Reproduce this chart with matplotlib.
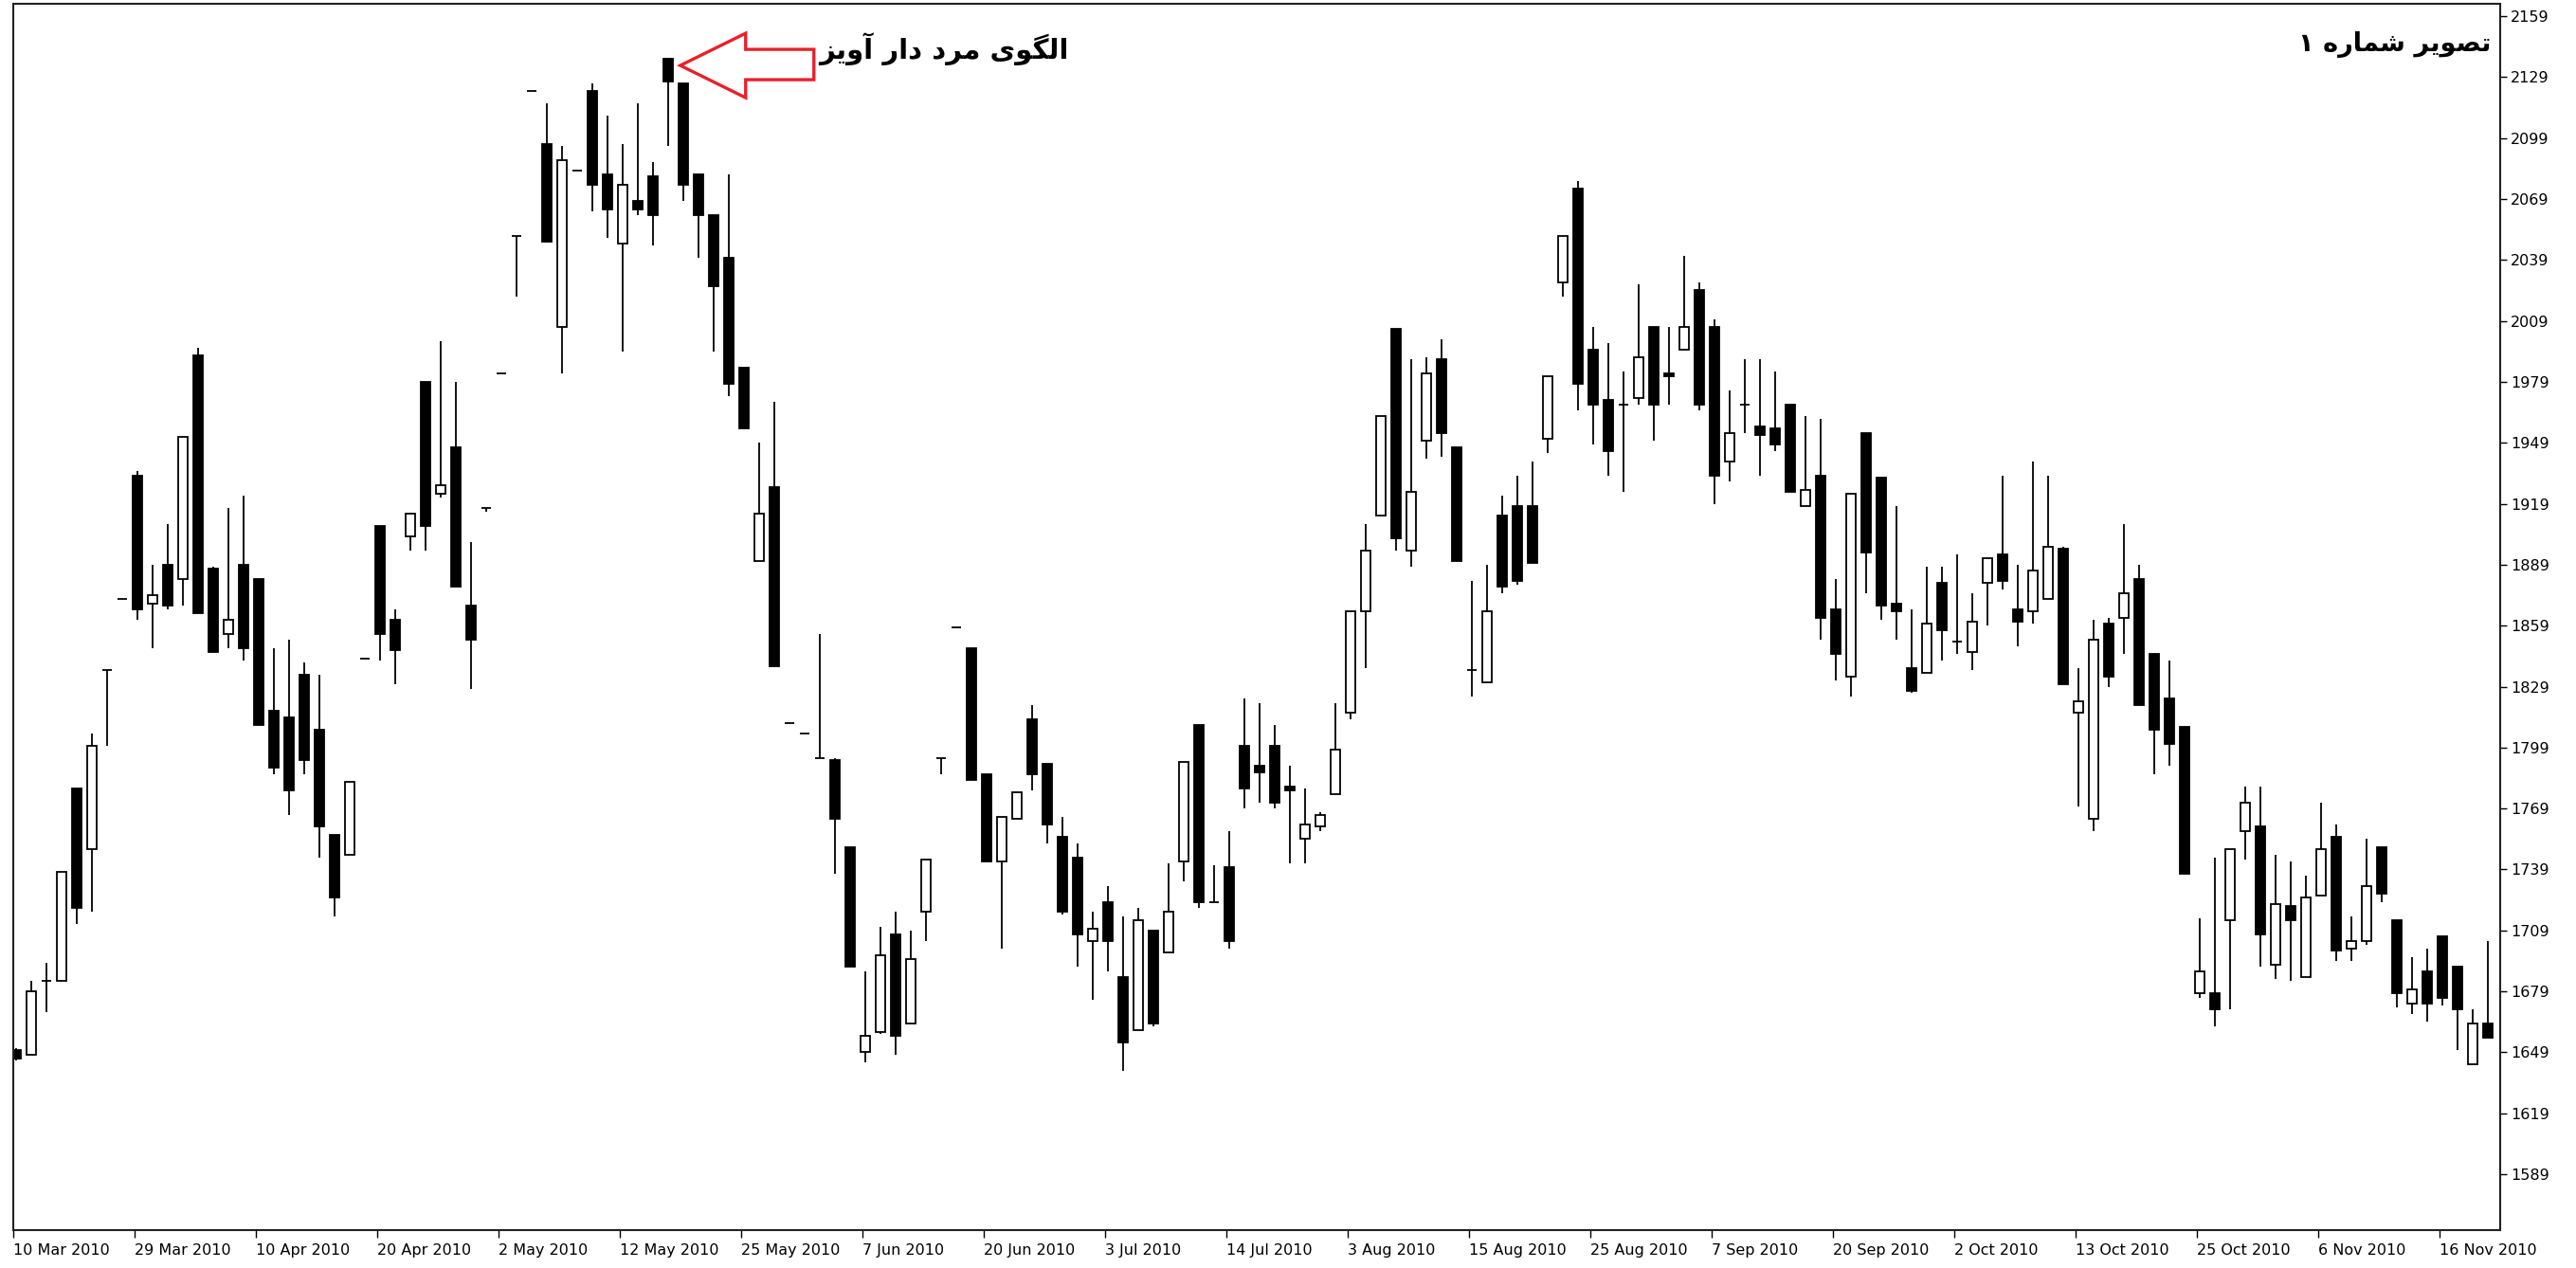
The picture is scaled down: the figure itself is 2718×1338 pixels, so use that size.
import matplotlib
matplotlib.use("Agg")
import matplotlib.pyplot as plt
from matplotlib.patches import Rectangle, Polygon
from matplotlib.transforms import IdentityTransform

# daily OHLC, one entry per bar
opens = [1650, 1648, 1684, 1684, 1779, 1749, 1837, 1872, 1933, 1870,
         1889, 1882, 1992, 1887, 1855, 1889, 1882, 1817, 1814, 1835,
         1808, 1756, 1746, 1843, 1908, 1862, 1903, 1979, 1924, 1947,
         1869, 1917, 1983, 2051, 2122, 2096, 2006, 2083, 2122, 2081,
         2047, 2068, 2080, 2138, 2126, 2081, 2061, 2040, 1986, 1891,
         1927, 1811, 1806, 1794, 1793, 1750, 1649, 1659, 1707, 1663,
         1718, 1794, 1858, 1848, 1786, 1743, 1764, 1813, 1791, 1755,
         1745, 1704, 1723, 1686, 1660, 1709, 1698, 1743, 1810, 1723,
         1740, 1800, 1790, 1800, 1780, 1754, 1760, 1776, 1816, 1866,
         1913, 2005, 1896, 1950, 1990, 1947, 1837, 1831, 1913, 1918,
         1918, 1951, 2028, 2074, 1995, 1970, 1968, 1971, 2006, 1983,
         1995, 2024, 2006, 1940, 1968, 1957, 1956, 1968, 1918, 1933,
         1867, 1834, 1954, 1932, 1870, 1838, 1836, 1880, 1851, 1846,
         1880, 1894, 1867, 1866, 1872, 1897, 1816, 1764, 1860, 1863,
         1882, 1845, 1823, 1809, 1678, 1678, 1714, 1758, 1760, 1692,
         1721, 1686, 1726, 1755, 1700, 1704, 1750, 1714, 1673, 1689,
         1706, 1691, 1643, 1663]
highs = [1651, 1684, 1693, 1738, 1779, 1806, 1837, 1872, 1935, 1889,
         1909, 1952, 1996, 1888, 1917, 1923, 1882, 1848, 1852, 1841,
         1835, 1756, 1782, 1843, 1908, 1867, 1914, 1979, 1999, 1979,
         1900, 1917, 1983, 2051, 2122, 2116, 2095, 2083, 2126, 2110,
         2096, 2116, 2087, 2138, 2126, 2081, 2061, 2081, 1986, 1949,
         1969, 1811, 1806, 1855, 1794, 1750, 1689, 1711, 1718, 1709,
         1744, 1794, 1858, 1848, 1786, 1765, 1777, 1820, 1791, 1765,
         1752, 1718, 1731, 1716, 1720, 1709, 1742, 1792, 1810, 1741,
         1758, 1823, 1821, 1810, 1790, 1779, 1767, 1821, 1866, 1909,
         1962, 2005, 1990, 1991, 2000, 1947, 1881, 1889, 1923, 1933,
         1940, 1982, 2051, 2078, 2006, 1998, 1984, 2027, 2006, 2006,
         2041, 2028, 2010, 1975, 1990, 1990, 1984, 1968, 1962, 1961,
         1882, 1924, 1954, 1932, 1918, 1867, 1888, 1888, 1894, 1875,
         1892, 1933, 1889, 1940, 1933, 1898, 1838, 1862, 1863, 1909,
         1889, 1845, 1842, 1809, 1715, 1745, 1749, 1780, 1780, 1746,
         1743, 1736, 1772, 1761, 1716, 1754, 1750, 1714, 1696, 1700,
         1706, 1691, 1670, 1704]
lows = [1645, 1648, 1669, 1684, 1712, 1718, 1800, 1872, 1862, 1848,
        1867, 1869, 1865, 1846, 1848, 1842, 1810, 1786, 1766, 1786,
        1745, 1716, 1746, 1843, 1842, 1830, 1896, 1896, 1922, 1878,
        1828, 1915, 1983, 2021, 2122, 2048, 1983, 2083, 2063, 2050,
        1994, 2061, 2046, 2095, 2068, 2040, 1994, 1972, 1956, 1891,
        1839, 1811, 1806, 1794, 1737, 1691, 1644, 1658, 1648, 1663,
        1704, 1786, 1858, 1783, 1743, 1700, 1764, 1778, 1752, 1717,
        1691, 1675, 1689, 1640, 1660, 1662, 1698, 1733, 1720, 1723,
        1700, 1769, 1772, 1769, 1742, 1742, 1758, 1776, 1813, 1838,
        1913, 1896, 1888, 1941, 1942, 1891, 1824, 1831, 1875, 1879,
        1890, 1944, 2021, 1965, 1948, 1933, 1925, 1968, 1950, 1968,
        1995, 1965, 1919, 1930, 1954, 1933, 1945, 1925, 1918, 1852,
        1832, 1824, 1875, 1862, 1852, 1826, 1836, 1842, 1845, 1837,
        1859, 1877, 1849, 1860, 1872, 1830, 1770, 1758, 1829, 1845,
        1820, 1786, 1790, 1737, 1676, 1662, 1670, 1744, 1691, 1685,
        1684, 1686, 1726, 1694, 1694, 1702, 1723, 1671, 1668, 1664,
        1672, 1650, 1643, 1656]
closes = [1646, 1679, 1684, 1738, 1720, 1800, 1837, 1872, 1867, 1874,
          1869, 1952, 1865, 1846, 1862, 1848, 1810, 1789, 1778, 1793,
          1760, 1725, 1782, 1843, 1855, 1847, 1914, 1908, 1928, 1878,
          1852, 1917, 1983, 2051, 2122, 2048, 2088, 2083, 2076, 2064,
          2076, 2064, 2061, 2127, 2076, 2061, 2026, 1978, 1956, 1914,
          1839, 1811, 1806, 1794, 1764, 1691, 1657, 1697, 1657, 1695,
          1744, 1794, 1858, 1783, 1743, 1765, 1777, 1786, 1761, 1718,
          1707, 1710, 1704, 1654, 1714, 1663, 1718, 1792, 1723, 1723,
          1704, 1779, 1787, 1772, 1778, 1761, 1766, 1798, 1866, 1896,
          1962, 1902, 1925, 1983, 1954, 1891, 1837, 1866, 1878, 1881,
          1890, 1982, 2051, 1978, 1968, 1945, 1968, 1991, 1968, 1982,
          2006, 1968, 1933, 1954, 1968, 1953, 1948, 1925, 1926, 1863,
          1845, 1924, 1895, 1869, 1866, 1827, 1860, 1857, 1851, 1861,
          1892, 1881, 1861, 1886, 1898, 1830, 1822, 1852, 1834, 1875,
          1820, 1808, 1801, 1737, 1689, 1670, 1749, 1772, 1707, 1722,
          1714, 1725, 1749, 1699, 1704, 1731, 1727, 1678, 1680, 1673,
          1676, 1670, 1663, 1656]

date_labels = ["10 Mar 2010", "29 Mar 2010", "10 Apr 2010", "20 Apr 2010",
               "2 May 2010", "12 May 2010", "25 May 2010", "7 Jun 2010",
               "20 Jun 2010", "3 Jul 2010", "14 Jul 2010", "3 Aug 2010",
               "15 Aug 2010", "25 Aug 2010", "7 Sep 2010", "20 Sep 2010",
               "2 Oct 2010", "13 Oct 2010", "25 Oct 2010", "6 Nov 2010",
               "16 Nov 2010"]
label_every = 8
price_ticks = list(range(1589, 2160, 30))

pattern_bar = 43  # the hanging man candle
pattern_title = "الگوی مرد دار آویز"
figure_title = "تصویر شماره ۱"


# minimal Persian shaping: isolated, final, initial, medial forms
FORMS = {
    "\u0627": ("\uFE8D", "\uFE8E", None, None),
    "\u0622": ("\uFE81", "\uFE82", None, None),
    "\u0644": ("\uFEDD", "\uFEDE", "\uFEDF", "\uFEE0"),
    "\u06AF": ("\uFB92", "\uFB93", "\uFB94", "\uFB95"),
    "\u0648": ("\uFEED", "\uFEEE", None, None),
    "\u06CC": ("\uFBFC", "\uFBFD", "\uFBFE", "\uFBFF"),
    "\u0645": ("\uFEE1", "\uFEE2", "\uFEE3", "\uFEE4"),
    "\u0631": ("\uFEAD", "\uFEAE", None, None),
    "\u062F": ("\uFEA9", "\uFEAA", None, None),
    "\u0632": ("\uFEAF", "\uFEB0", None, None),
    "\u062A": ("\uFE95", "\uFE96", "\uFE97", "\uFE98"),
    "\u0635": ("\uFEB9", "\uFEBA", "\uFEBB", "\uFEBC"),
    "\u0634": ("\uFEB5", "\uFEB6", "\uFEB7", "\uFEB8"),
    "\u0647": ("\uFEE9", "\uFEEA", "\uFEEB", "\uFEEC"),
}


def shape_rtl(text):
    out = []
    for i, ch in enumerate(text):
        if ch not in FORMS:
            out.append(ch)
            continue
        prev = text[i - 1] if i > 0 else ""
        nxt = text[i + 1] if i + 1 < len(text) else ""
        iso, fin, ini, med = FORMS[ch]
        join_prev = prev in FORMS and FORMS[prev][2] is not None
        join_next = ini is not None and nxt in FORMS
        if join_prev and join_next:
            out.append(med)
        elif join_prev:
            out.append(fin)
        elif join_next:
            out.append(ini)
        else:
            out.append(iso)
    return "".join(reversed(out))


W, H = 2718, 1338
fig = plt.figure(figsize=(W / 100, H / 100), dpi=100)
fig.patch.set_facecolor("white")
ax = fig.add_axes([14 / W, 1 - 1298 / H, (2638 - 14) / W, (1298 - 4) / H])

n = len(opens)
body_w = 0.6
lw = 1.3
for i in range(n):
    o, h, l, c = opens[i], highs[i], lows[i], closes[i]
    ax.vlines(i, l, h, color="black", lw=lw, zorder=1)
    if o == c:
        ax.hlines(o, i - body_w / 2, i + body_w / 2, color="black", lw=lw, zorder=2)
    else:
        face = "white" if c > o else "black"
        ax.add_patch(Rectangle((i - body_w / 2, min(o, c)), body_w, abs(c - o),
                               facecolor=face, edgecolor="black", lw=lw, zorder=2))

ax.set_xlim(-0.17, n - 1 + 0.82)
ax.set_ylim(1561.5, 2165.1)

ax.yaxis.tick_right()
ax.set_yticks(price_ticks)
ax.set_yticklabels([str(p) for p in price_ticks])
ax.tick_params(axis="y", direction="out", length=5, width=1, pad=3,
               labelsize=11.5, colors="black")

xt = [k * label_every - 0.17 for k in range(len(date_labels))]
ax.set_xticks(xt)
ax.set_xticklabels(date_labels, ha="left")
ax.tick_params(axis="x", direction="out", length=6, width=1, pad=4,
               labelsize=11.5, colors="black")

for sp in ax.spines.values():
    sp.set_color("#222222")
    sp.set_linewidth(1.5)

# red hollow arrow pointing at the hanging man
ax_px = ax.transData.transform((pattern_bar, highs[pattern_bar]))
tip = (ax_px[0] + 13, ax_px[1] - 7)
shape_off = [(0, 0), (69, 34), (69, 17), (141, 17), (141, -15), (69, -15), (69, -34)]
verts = [(tip[0] + dx, tip[1] + dy) for dx, dy in shape_off]
fig.add_artist(Polygon(verts, closed=True, facecolor="none", edgecolor="#e8202a",
                       lw=2.4, transform=IdentityTransform(), clip_on=False))

fig.text(1128 / W, 1 - 52 / H, shape_rtl(pattern_title), ha="right", va="center",
         fontsize=21, fontweight="bold", family=["DejaVu Sans"])
fig.text(2628 / W, 1 - 47 / H, shape_rtl(figure_title), ha="right", va="center",
         fontsize=19.5, fontweight="bold", family=["DejaVu Sans"])

fig.savefig("out.png", dpi=100, facecolor="white")
